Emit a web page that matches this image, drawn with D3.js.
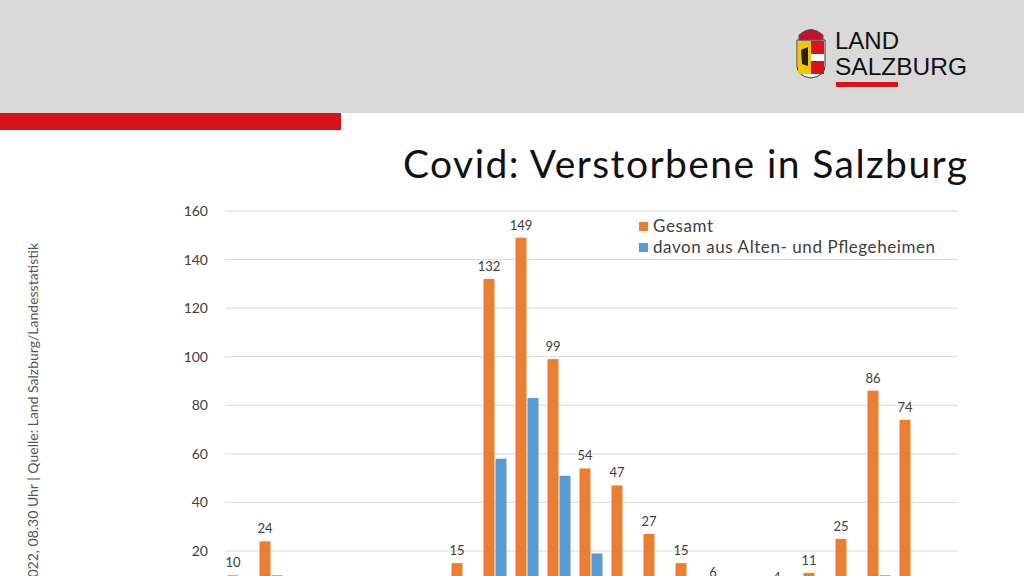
<!DOCTYPE html>
<html><head><meta charset="utf-8">
<script src="https://cdn.jsdelivr.net/npm/d3@7"></script>
<style>body{margin:0;overflow:hidden;background:#fff}svg{display:block}</style>
</head><body>
<script>
const groups = d3.range(22).map(String);
const gesamt = [10,24,2,1,1,1,2,15,132,149,99,54,47,27,15,6,2,4,11,25,86,74];
const heime  = [3,10,1,0,0,0,1,5,58,83,51,19,4,3,2,1,0,1,2,4,10,6];
const yTicks = [0,20,40,60,80,100,120,140,160];

const svg = d3.select("body").append("svg").attr("width",1024).attr("height",640);
const font = "Lato, 'Open Sans', sans-serif";
svg.append("rect").attr("width",1024).attr("height",113).attr("fill","#d9d9d9");
svg.append("rect").attr("y",113).attr("width",341).attr("height",17).attr("fill","#d7141a");
svg.append("text").attr("x",967).attr("y",178).attr("text-anchor","end").attr("font-family",font)
  .attr("font-size",39).attr("fill","#111").attr("textLength",564).text("Covid: Verstorbene in Salzburg");
svg.append("text").attr("transform","translate(38,243) rotate(-90)").attr("text-anchor","end")
  .attr("font-family",font).attr("font-size",14).attr("fill","#555")
  .text("Stand: 10. Jänner 2022, 08.30 Uhr  |  Quelle: Land Salzburg/Landesstatistik");

// logo
const lg = svg.append("g");
lg.append("path").attr("d","M797,40 L825,40 L825,66 Q825,76 811,78 Q797,76 797,66 Z").attr("fill","#fff").attr("stroke","#333");
lg.append("rect").attr("x",798).attr("y",41).attr("width",13).attr("height",33).attr("fill","#f2c500");
lg.append("rect").attr("x",811).attr("y",41).attr("width",13).attr("height",33).attr("fill","#d7141a");
lg.append("rect").attr("x",811).attr("y",54).attr("width",13).attr("height",7).attr("fill","#fff");
lg.append("path").attr("d","M801,50 L808,47 L808,66 L802,64 Z").attr("fill","#222");
lg.append("path").attr("d","M799,35 Q811,24 823,35 L823,40 L799,40 Z").attr("fill","#c8102e").attr("stroke","#555");
const lf = "'Liberation Sans',Arial,sans-serif";
lg.append("text").attr("x",835).attr("y",49).attr("font-family",lf).attr("font-size",24).attr("fill","#111").text("LAND");
lg.append("text").attr("x",835).attr("y",75).attr("font-family",lf).attr("font-size",24).attr("fill","#111").attr("textLength",132).attr("lengthAdjust","spacingAndGlyphs").text("SALZBURG");
lg.append("rect").attr("x",836).attr("y",82).attr("width",62).attr("height",5).attr("fill","#d7141a");

const y = d3.scaleLinear().domain([0,160]).range([599.6,211]);
const x = d3.scaleBand().domain(groups).range([223,927]);
svg.append("g").selectAll("line").data(yTicks).join("line")
  .attr("x1",225).attr("x2",958).attr("y1",d=>y(d)).attr("y2",d=>y(d)).attr("stroke","#d9d9d9");
const ax = svg.append("g").attr("transform","translate(208,0)").call(d3.axisLeft(y).tickValues(yTicks).tickSize(0).tickPadding(0));
ax.select(".domain").remove();
ax.selectAll("text").attr("font-family",font).attr("font-size",14).attr("fill","#404040");

const bw = 11;
svg.append("g").selectAll("rect").data(gesamt).join("rect")
  .attr("x",(d,i)=>x(groups[i])+x.bandwidth()/2-bw-0.5).attr("width",bw)
  .attr("y",d=>y(d)).attr("height",d=>y(0)-y(d)).attr("fill","#ed7d31");
svg.append("g").selectAll("rect").data(heime).join("rect")
  .attr("x",(d,i)=>x(groups[i])+x.bandwidth()/2+0.5).attr("width",bw)
  .attr("y",d=>y(d)).attr("height",d=>y(0)-y(d)).attr("fill","#5b9bd5");
svg.append("g").selectAll("text").data(gesamt).join("text")
  .attr("x",(d,i)=>x(groups[i])+x.bandwidth()/2-bw/2-0.5).attr("y",d=>y(d)-8)
  .attr("text-anchor","middle").attr("font-family",font).attr("font-size",13).attr("fill","#404040")
  .text(d=>d);

const leg = svg.append("g").attr("font-family",font).attr("font-size",17).attr("fill","#404040");
[["Gesamt","#ed7d31",60],["davon aus Alten- und Pflegeheimen","#5b9bd5",282]].forEach((l,i)=>{
  leg.append("rect").attr("x",639).attr("y",222+i*21).attr("width",9).attr("height",9).attr("fill",l[1]);
  leg.append("text").attr("x",653).attr("y",232+i*21).attr("fill","#404040").attr("textLength",l[2]).text(l[0]);
});
</script>
</body></html>
